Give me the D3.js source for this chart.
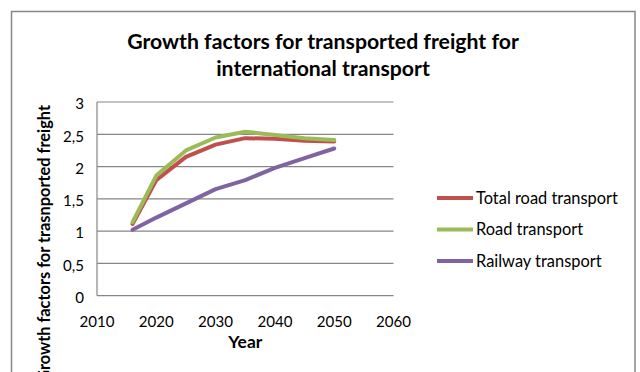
<!DOCTYPE html>
<html><head><meta charset="utf-8">
<script src="https://cdn.jsdelivr.net/npm/d3@7"></script>
<style>body{margin:0;background:#fff}svg{display:block}</style>
</head><body>
<svg id="c" width="640" height="372"></svg>
<script>
const years = [2016, 2020, 2025, 2030, 2035, 2040, 2045, 2050];
const totalRoad = [1.11, 1.79, 2.15, 2.34, 2.44, 2.43, 2.40, 2.39];
const road = [1.14, 1.86, 2.25, 2.45, 2.54, 2.49, 2.44, 2.41];
const railway = [1.02, 1.21, 1.43, 1.65, 1.79, 1.98, 2.13, 2.28];
const seriesNames = ["Total road transport", "Road transport", "Railway transport"];
const xTicks = [2010, 2020, 2030, 2040, 2050, 2060];
const yTicks = [0, 0.5, 1, 1.5, 2, 2.5, 3];
const titleLines = ["Growth factors for transported freight for", "international transport"];
const xTitle = "Year";
const yTitle = "Growth factors for trasnported freight";

const colors = ["#C0504D", "#9BBB59", "#8064A2"];
const FONT = "Lato, 'Open Sans', sans-serif";
const svg = d3.select("#c");

function fitSize(text, weight, target) {
  const t = svg.append("text").attr("font-family", FONT).attr("font-weight", weight)
    .attr("font-size", 20).text(text);
  const w = t.node().getComputedTextLength();
  t.remove();
  return 20 * target / w;
}

// border
svg.append("rect").attr("x", 11.5).attr("y", 11.5).attr("width", 623.5).attr("height", 420)
  .attr("fill", "#fff").attr("stroke", "#878787").attr("stroke-width", 1.5);

const x = d3.scaleLinear().domain([2010, 2060]).range([97, 393.5]);
const y = d3.scaleLinear().domain([0, 3]).range([295.7, 102]);

// gridlines
svg.append("g").selectAll("line").data(yTicks).join("line")
  .attr("x1", x(2010)).attr("x2", x(2060))
  .attr("y1", d => y(d)).attr("y2", d => y(d))
  .attr("stroke", "#868686").attr("stroke-width", 1.2);
// y axis line
svg.append("line").attr("x1", x(2010)).attr("x2", x(2010)).attr("y1", y(3)).attr("y2", y(0))
  .attr("stroke", "#868686").attr("stroke-width", 1.2);

const tickSize = fitSize("2010", "normal", 35);
const fmt = d => String(d).replace(".", ",");
svg.append("g").selectAll("text").data(yTicks).join("text")
  .attr("x", 84).attr("y", d => y(d) + 2).attr("dy", "0.35em")
  .attr("text-anchor", "end").attr("font-family", FONT).attr("font-size", tickSize)
  .attr("fill", "#000").text(fmt);
svg.append("g").selectAll("text").data(xTicks).join("text")
  .attr("x", d => x(d)).attr("y", 327)
  .attr("text-anchor", "middle").attr("font-family", FONT).attr("font-size", tickSize)
  .attr("fill", "#000").text(d => d);

// lines
const allSeries = [totalRoad, road, railway];
const line = d3.line().x((d, i) => x(years[i])).y(d => y(d));
svg.append("g").selectAll("path").data(allSeries).join("path")
  .attr("d", d => line(d)).attr("fill", "none")
  .attr("stroke", (d, i) => colors[i]).attr("stroke-width", 4)
  .attr("stroke-linejoin", "round").attr("stroke-linecap", "round");

// title
const titleSize = fitSize(titleLines[0], "bold", 392);
svg.append("g").selectAll("text").data(titleLines).join("text")
  .attr("x", 323).attr("y", (d, i) => 49 + i * 27)
  .attr("text-anchor", "middle").attr("font-family", FONT).attr("font-weight", "bold")
  .attr("font-size", titleSize).attr("fill", "#000").text(d => d);

// axis titles
const axSize = fitSize(xTitle, "bold", 34);
svg.append("text").attr("x", x(2035)).attr("y", 348).attr("text-anchor", "middle")
  .attr("font-family", FONT).attr("font-weight", "bold").attr("font-size", axSize)
  .attr("fill", "#000").text(xTitle);
const yTitleSize = fitSize(yTitle, "bold", 277);
svg.append("text").attr("transform", "translate(50,105) rotate(-90)")
  .attr("text-anchor", "end").attr("font-family", FONT).attr("font-weight", "bold")
  .attr("font-size", yTitleSize).attr("fill", "#000").text(yTitle);

// legend
const legSize = fitSize(seriesNames[0], "normal", 142);
const lg = svg.append("g").selectAll("g").data(seriesNames).join("g")
  .attr("transform", (d, i) => `translate(437,${198 + i * 31.5})`);
lg.append("line").attr("x1", 0).attr("x2", 36).attr("y1", 0).attr("y2", 0)
  .attr("stroke", (d, i) => colors[i]).attr("stroke-width", 4);
lg.append("text").attr("x", 39).attr("y", 0).attr("dy", "0.35em")
  .attr("font-family", FONT).attr("font-size", legSize).attr("fill", "#000").text(d => d);
</script>
</body></html>
